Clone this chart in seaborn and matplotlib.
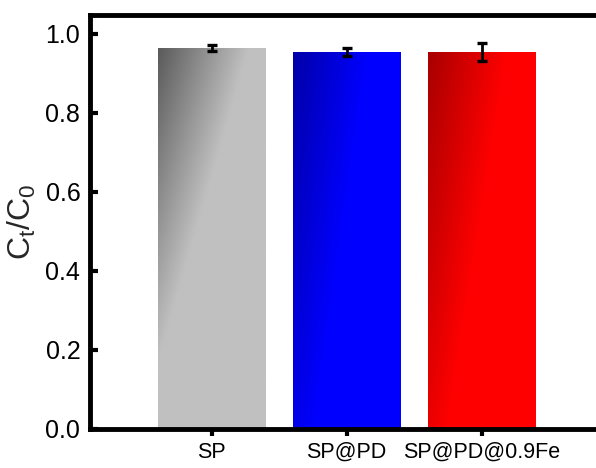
import numpy as np
import pandas as pd
import matplotlib
matplotlib.use("Agg")
import matplotlib.pyplot as plt
import seaborn as sns

# ---- data ----
categories = ["SP", "SP@PD", "SP@PD@0.9Fe"]
ct_c0 = [0.964, 0.954, 0.954]
errors = [0.007, 0.011, 0.022]
y_ticks = [0.0, 0.2, 0.4, 0.6, 0.8, 1.0]

# ---- style ----
light_colors = ["#c0c0c0", "#0000ff", "#ff0000"]
dark_colors = ["#5a5a5a", "#0000a8", "#a80000"]
grad_len_px = [91, 76, 80]      # horizontal extent of gradient at the bar top
grad_slope = [0.29, 0.145, 0.16]  # slant of the gradient front

sns.set_style("ticks")
plt.rcParams["font.family"] = ["Liberation Sans", "DejaVu Sans"]
plt.rcParams["mathtext.default"] = "regular"

fig = plt.figure(figsize=(5.96, 4.68), dpi=100)
ax = fig.add_axes([90 / 596, 1 - 429 / 468, (603 - 90) / 596, (429 - 15) / 468])

df = pd.DataFrame({"cat": categories, "val": ct_c0})
sns.barplot(data=df, x="cat", y="val", hue="cat", palette=light_colors,
            errorbar=None, width=0.8, legend=False, ax=ax, saturation=1,
            linewidth=0)

ax.set_xlim(-0.9, 2.9)
ax.set_ylim(0, 1.048)

# gradient overlay
for i, patch in enumerate(ax.patches):
    x0 = patch.get_x()
    w = patch.get_width()
    h = patch.get_height()
    p0 = ax.transData.transform((x0, 0))
    p1 = ax.transData.transform((x0 + w, h))
    Wpx = abs(p1[0] - p0[0])
    Hpx = abs(p1[1] - p0[1])
    nx, ny = 300, 600
    u = np.linspace(0, Wpx, nx)[None, :]
    v = np.linspace(0, Hpx, ny)[:, None]
    t = np.clip((u + grad_slope[i] * v) / grad_len_px[i], 0, 1)
    d = np.array(matplotlib.colors.to_rgb(dark_colors[i]))
    l = np.array(matplotlib.colors.to_rgb(light_colors[i]))
    img = d[None, None, :] + t[:, :, None] * (l - d)[None, None, :]
    im = ax.imshow(img, extent=(x0, x0 + w, 0, h), origin="upper",
                   aspect="auto", zorder=2, interpolation="bilinear")
    im.set_clip_path(patch)

ax.set_xlim(-0.9, 2.9)
ax.set_ylim(0, 1.048)

ax.errorbar(np.arange(len(categories)), ct_c0, yerr=errors, fmt="none",
            ecolor="black", elinewidth=2.0, capsize=3.8, capthick=2.4,
            zorder=5)

ax.set_yticks(y_ticks)
ax.set_yticklabels([f"{v:.1f}" for v in y_ticks])
ax.set_xlabel("")
ax.set_ylabel("$C_t/C_0$", fontsize=23, labelpad=5)

for side in ["left", "bottom", "top", "right"]:
    ax.spines[side].set_linewidth(3.5)
    ax.spines[side].set_color("black")
ax.spines["right"].set_visible(False)

ax.tick_params(axis="y", direction="in", length=6, width=3, labelsize=18,
               pad=7, colors="black")
ax.tick_params(axis="x", direction="out", length=5, width=3, labelsize=15.5,
               pad=4, colors="black")

fig.savefig("out.png", dpi=100)
